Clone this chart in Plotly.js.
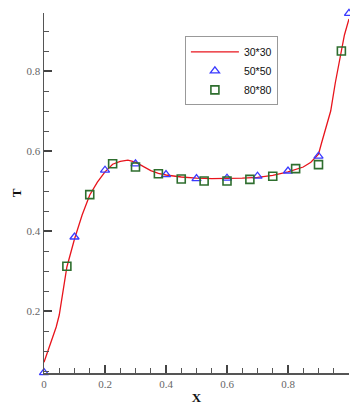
<!DOCTYPE html>
<html>
<head>
<meta charset="utf-8">
<script src="https://cdn.plot.ly/plotly-3.0.1.min.js"></script>
<style>html,body{margin:0;padding:0;background:#fff;}</style>
</head>
<body>
<div id="chart" style="width:350px;height:405px;"></div>
<script>
// 30*30 grid: solid line
const line_x = [0, 0.025, 0.04, 0.05, 0.075, 0.1, 0.125, 0.15, 0.175, 0.2, 0.225, 0.25, 0.275, 0.3, 0.325, 0.35, 0.375, 0.4, 0.45, 0.5, 0.55, 0.6, 0.65, 0.7, 0.75, 0.8, 0.85, 0.875, 0.9, 0.91, 0.925, 0.94, 0.955, 0.97, 0.985, 1.0];
const line_y = [0.072, 0.13, 0.16, 0.19, 0.31, 0.38, 0.44, 0.49, 0.522, 0.548, 0.567, 0.574, 0.577, 0.572, 0.561, 0.551, 0.544, 0.540, 0.535, 0.532, 0.531, 0.531, 0.532, 0.534, 0.539, 0.548, 0.560, 0.572, 0.592, 0.62, 0.66, 0.70, 0.77, 0.835, 0.89, 0.93];
// 50*50 grid: triangles
const tri_x = [0, 0.1, 0.2, 0.3, 0.4, 0.5, 0.6, 0.7, 0.8, 0.9, 1.0];
const tri_y = [0.046, 0.385, 0.552, 0.568, 0.541, 0.531, 0.532, 0.537, 0.550, 0.587, 0.944];
// 80*80 grid: squares
const sq_x = [0.075, 0.15, 0.225, 0.3, 0.375, 0.45, 0.525, 0.6, 0.675, 0.75, 0.825, 0.9, 0.975];
const sq_y = [0.312, 0.491, 0.568, 0.560, 0.543, 0.530, 0.525, 0.525, 0.529, 0.537, 0.556, 0.566, 0.85];
const names = ["30*30", "50*50", "80*80"];

const traces = [
  {x: line_x, y: line_y, mode: 'lines', name: names[0], line: {color: '#e8141c', width: 1.3}},
  {x: tri_x, y: tri_y, mode: 'markers', name: names[1], cliponaxis: false,
   marker: {symbol: 'triangle-up-open', size: 8, color: '#3a3aff', line: {width: 1.3}}},
  {x: sq_x, y: sq_y, mode: 'markers', name: names[2], cliponaxis: false,
   marker: {symbol: 'square-open', size: 8, color: '#2e6e2e', line: {width: 1.6}}}
];

const axisCommon = {
  showgrid: false, zeroline: false, showline: true, linecolor: '#555', linewidth: 1.5,
  ticks: 'inside', ticklen: 8, tickwidth: 1.3, tickcolor: '#444',
  tickfont: {family: 'Liberation Serif', size: 11, color: '#666'},
  minor: {ticks: 'inside', dtick: 0.05, ticklen: 5, tickwidth: 1, tickcolor: '#555'},
  mirror: false
};

const layout = {
  width: 350, height: 405,
  margin: {l: 44, r: 1, t: 13, b: 32},
  paper_bgcolor: '#fff', plot_bgcolor: '#fff',
  showlegend: true,
  xaxis: Object.assign({}, axisCommon, {
    range: [0, 1], dtick: 0.2, tick0: 0,
    title: {text: '<b>X</b>', font: {family: 'Liberation Serif', size: 13, color: '#111'}, standoff: 4}
  }),
  yaxis: Object.assign({}, axisCommon, {
    range: [0.045, 0.945], dtick: 0.2, tick0: 0,
    title: {text: '<b>T</b>', font: {family: 'Liberation Serif', size: 13, color: '#111'}, standoff: 2}
  }),
  legend: {
    x: 0.462, y: 0.935, xanchor: 'left', yanchor: 'top',
    bordercolor: '#999', borderwidth: 1, bgcolor: '#fff',
    font: {family: 'Liberation Sans', size: 10.5, color: '#111'},
    itemwidth: 48, tracegroupgap: 0
  }
};

Plotly.newPlot('chart', traces, layout, {displayModeBar: false, staticPlot: true});
</script>
</body>
</html>
